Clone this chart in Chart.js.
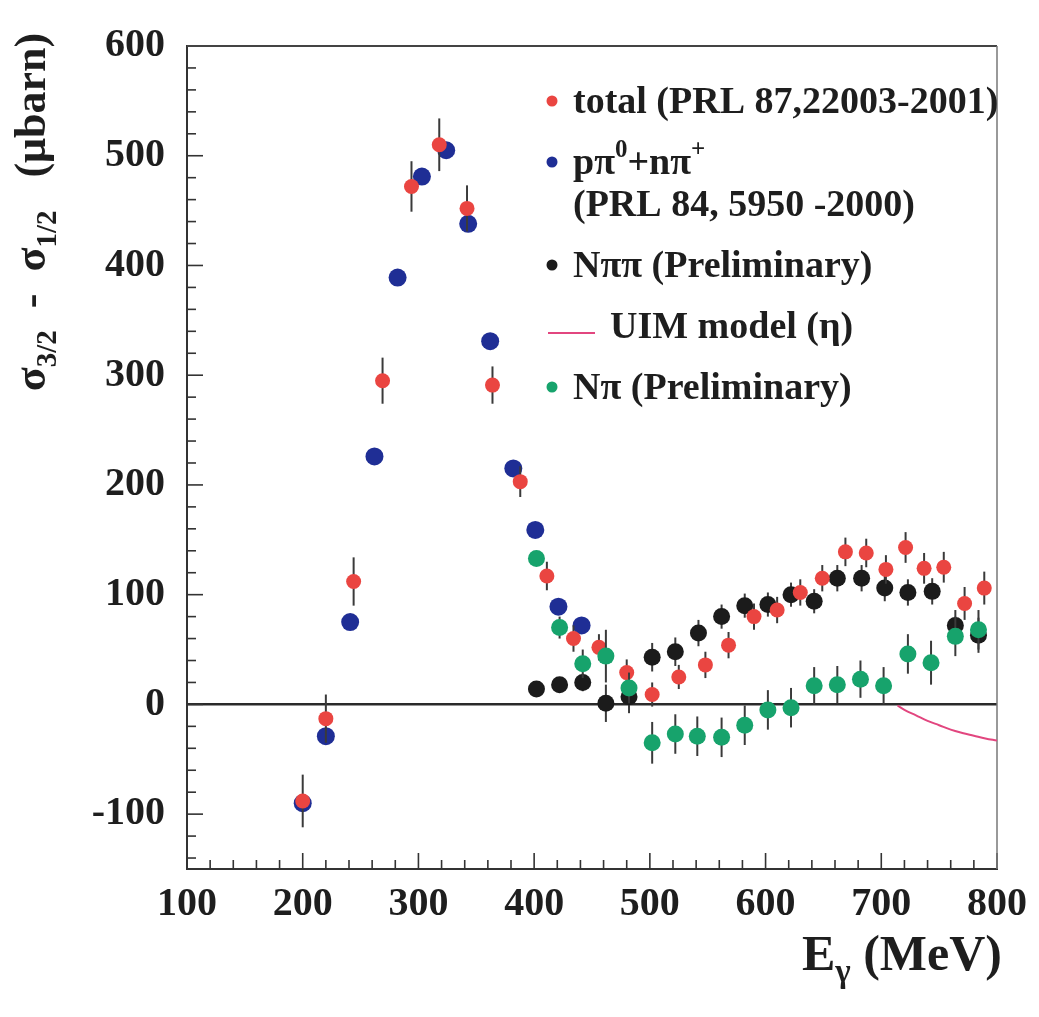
<!DOCTYPE html>
<html>
<head>
<meta charset="utf-8">
<script src="https://cdn.jsdelivr.net/npm/chart.js@4.4.1/dist/chart.umd.min.js"></script>
<style>
html,body{margin:0;padding:0;background:#ffffff;}
#wrap{width:1039px;height:1017px;position:relative;}
</style>
</head>
<body>
<div id="wrap"><canvas id="c" width="1039" height="1017"></canvas></div>
<script>
// ---------- data ----------
const totalE   = [200, 220, 244, 269, 294, 318, 342, 364, 388, 411, 434, 456, 480, 502, 525, 548, 568, 590, 610, 630, 649, 669, 687, 704, 721, 737, 754, 772, 789];
const totalV   = [-88, -13, 112, 295, 472, 510, 452, 291, 203, 117, 60, 52, 29, 9, 25, 36, 54, 80, 86, 102, 115, 139, 138, 123, 143, 124, 125, 92, 106];
const totalErr = [24, 22, 22, 21, 23, 24, 21, 17, 14, 13, 12, 12, 12, 11, 11, 12, 12, 12, 12, 12, 12, 13, 13, 13, 14, 14, 14, 15, 15];

const singleE  = [200, 220, 241, 262, 282, 303, 324, 343, 362, 382, 401, 421, 441];
const singleV  = [-90, -29, 75, 226, 389, 481, 505, 438, 331, 215, 159, 89, 72];

const npipiE   = [402, 422, 442, 462, 482, 502, 522, 542, 562, 582, 602, 622, 642, 662, 683, 703, 723, 744, 764, 784];
const npipiV   = [14, 18, 20, 1, 7, 43, 48, 65, 80, 90, 91, 100, 94, 115, 115, 106, 102, 103, 72, 63];
const npipiErr = [6, 6, 8, 17, 15, 13, 13, 12, 11, 11, 11, 11, 11, 12, 12, 12, 12, 12, 14, 16];

const npiE     = [402, 422, 442, 462, 482, 502, 522, 541, 562, 582, 602, 622, 642, 662, 682, 702, 723, 743, 764, 784];
const npiV     = [133, 70, 37, 44, 15, -35, -27, -29, -30, -19, -5, -3, 17, 18, 23, 17, 46, 38, 62, 68];
const npiErr   = [6, 10, 13, 24, 14, 19, 18, 18, 18, 18, 18, 18, 17, 17, 17, 17, 18, 20, 18, 18];

const uimE     = [714, 720, 730, 740, 750, 760, 770, 780, 790, 800];
const uimV     = [-1, -5, -10, -15, -19, -23, -26, -28.5, -31, -33];

const xTicks = [100, 200, 300, 400, 500, 600, 700, 800];
const yTicks = [-100, 0, 100, 200, 300, 400, 500, 600];
const minorStep = 20;

const legendTexts = [
  [[['total (PRL 87,22003-2001)', '']]],
  [[['p\u03c0', ''], ['0', 'sup'], ['+n\u03c0', ''], ['+', 'sup']], [['(PRL 84, 5950 -2000)', '']]],
  [[['N\u03c0\u03c0 (Preliminary)', '']]],
  [[['UIM model (\u03b7)', '']]],
  [[['N\u03c0 (Preliminary)', '']]]
];
const xTitleParts = [['E', ''], ['\u03b3', 'sub'], [' (MeV)', '']];
const yTitleParts = [['\u03c3', ''], ['3/2', 'sub'], ['  -  \u03c3', ''], ['1/2', 'sub'], ['   (\u03bcbarn)', '']];

// ---------- styles ----------
const RED = '#ea4541', BLUE = '#1f2e95', BLACK = '#1b1b1b', GREEN = '#17a36c', PINK = '#e2467f';
const TXT = '#1e1e1e';
const FONT = '"Liberation Serif", "Times New Roman", serif';

const pts = (xs, ys) => xs.map((x, i) => ({x: x, y: ys[i]}));

function fontFor(mode, size) {
  const s = mode ? Math.round(size * 0.65) : size;
  return 'bold ' + s + 'px ' + FONT;
}
function drawRich(ctx, parts, x, y, size, align) {
  const widths = parts.map(([t, m]) => { ctx.font = fontFor(m, size); return ctx.measureText(t).width; });
  const total = widths.reduce((a, b) => a + b, 0);
  let cx = align === 'right' ? x - total : (align === 'center' ? x - total / 2 : x);
  ctx.textAlign = 'left';
  ctx.textBaseline = 'alphabetic';
  parts.forEach(([t, m], i) => {
    ctx.font = fontFor(m, size);
    const dy = m === 'sub' ? size * 0.24 : (m === 'sup' ? -size * 0.45 : 0);
    ctx.fillText(t, cx, y + dy);
    cx += widths[i];
  });
}

const errorBars = {
  id: 'errorBars',
  beforeDatasetDraw(chart, args) {
    const ds = chart.data.datasets[args.index];
    if (!ds.errors) return;
    const xs = chart.scales.x, ys = chart.scales.y, ctx = chart.ctx;
    ctx.save();
    ctx.strokeStyle = '#3a3a3a';
    ctx.lineWidth = 2;
    ds.data.forEach((p, i) => {
      const e = ds.errors[i];
      const px = xs.getPixelForValue(p.x);
      ctx.beginPath();
      ctx.moveTo(px, ys.getPixelForValue(p.y - e));
      ctx.lineTo(px, ys.getPixelForValue(p.y + e));
      ctx.stroke();
    });
    ctx.restore();
  }
};

const frameAndTicks = {
  id: 'frameAndTicks',
  beforeDatasetsDraw(chart) {
    const {ctx, chartArea: a, scales: {x, y}} = chart;
    ctx.save();
    ctx.strokeStyle = '#333';
    ctx.lineWidth = 1.6;
    for (let v = y.min + 10; v <= y.max; v += minorStep) {
      const py = y.getPixelForValue(v);
      const len = (v % 100 === 0) ? 16 : 9;
      ctx.beginPath(); ctx.moveTo(a.left, py); ctx.lineTo(a.left + len, py); ctx.stroke();
    }
    for (let v = x.min; v <= x.max; v += minorStep) {
      const px = x.getPixelForValue(v);
      const len = (v % 100 === 0) ? 16 : 9;
      ctx.beginPath(); ctx.moveTo(px, a.bottom); ctx.lineTo(px, a.bottom - len); ctx.stroke();
    }
    // top and right frame
    ctx.strokeStyle = '#444'; ctx.lineWidth = 2;
    ctx.beginPath(); ctx.moveTo(a.left, a.top); ctx.lineTo(a.right, a.top); ctx.stroke();
    ctx.strokeStyle = '#777'; ctx.lineWidth = 1.5;
    ctx.beginPath(); ctx.moveTo(a.right, a.top); ctx.lineTo(a.right, a.bottom); ctx.stroke();
    ctx.restore();
  }
};

const titlesAndLegend = {
  id: 'titlesAndLegend',
  afterDraw(chart) {
    const ctx = chart.ctx;
    const dsets = chart.data.datasets;
    ctx.save();
    ctx.fillStyle = TXT;
    // x title
    drawRich(ctx, xTitleParts, 1002, 970, 50, 'right');
    // y title (rotated)
    ctx.save();
    ctx.translate(45, 212);
    ctx.rotate(-Math.PI / 2);
    drawRich(ctx, yTitleParts, 0, 0, 44, 'center');
    ctx.restore();
    // legend
    const dotX = 552, textX = 573, size = 38;
    let base = 113;
    legendTexts.forEach((lines, k) => {
      const ds = dsets[k];
      if (ds.type === 'line') {
        ctx.strokeStyle = ds.borderColor; ctx.lineWidth = 2;
        ctx.beginPath(); ctx.moveTo(dotX - 4, base - 5); ctx.lineTo(dotX + 43, base - 5); ctx.stroke();
        ctx.fillStyle = TXT;
        drawRich(ctx, lines[0], textX + 37, base, size, 'left');
      } else {
        ctx.fillStyle = ds.backgroundColor;
        ctx.beginPath(); ctx.arc(dotX, base - 12, 5.5, 0, Math.PI * 2); ctx.fill();
        ctx.fillStyle = TXT;
        lines.forEach((ln, j) => drawRich(ctx, ln, textX, base + j * 42, size, 'left'));
      }
      base += 61 + (lines.length - 1) * 42;
    });
    ctx.restore();
  }
};

const whiteBg = {
  id: 'whiteBg',
  beforeDraw(chart) {
    const ctx = chart.ctx;
    ctx.save(); ctx.fillStyle = '#ffffff'; ctx.fillRect(0, 0, chart.width, chart.height); ctx.restore();
  }
};

const tickFont = {family: FONT, size: 40, weight: 'bold'};

new Chart(document.getElementById('c'), {
  type: 'scatter',
  data: {
    datasets: [
      {label: 'total (PRL 87,22003-2001)', data: pts(totalE, totalV), errors: totalErr,
       backgroundColor: RED, borderWidth: 0, pointRadius: 7.5, order: 1},
      {label: 'p\u03c0\u2070+n\u03c0\u207a (PRL 84, 5950 -2000)', data: pts(singleE, singleV),
       backgroundColor: BLUE, borderWidth: 0, pointRadius: 9, order: 3},
      {label: 'N\u03c0\u03c0 (Preliminary)', data: pts(npipiE, npipiV), errors: npipiErr,
       backgroundColor: BLACK, borderWidth: 0, pointRadius: 8.5, order: 2},
      {label: 'UIM model (\u03b7)', type: 'line', data: pts(uimE, uimV), borderColor: PINK, backgroundColor: PINK,
       borderWidth: 2, pointRadius: 0, showLine: true, fill: false, tension: 0.4, order: 4},
      {label: 'N\u03c0 (Preliminary)', data: pts(npiE, npiV), errors: npiErr,
       backgroundColor: GREEN, borderWidth: 0, pointRadius: 8.5, order: 0}
    ]
  },
  options: {
    responsive: false,
    animation: false,
    devicePixelRatio: 1,
    layout: {padding: {top: 25, right: 35, left: 0, bottom: 0}},
    plugins: {legend: {display: false}, tooltip: {enabled: false}},
    scales: {
      x: {
        type: 'linear', min: 100, max: 800,
        afterFit: s => { s.height = 148; },
        afterBuildTicks: s => { s.ticks = xTicks.map(v => ({value: v})); },
        ticks: {font: tickFont, color: TXT, padding: 12, maxRotation: 0, autoSkip: false},
        grid: {drawOnChartArea: false, drawTicks: false},
        border: {display: true, color: '#333', width: 2}
      },
      y: {
        type: 'linear', min: -150, max: 600,
        afterFit: s => { s.width = 187; },
        afterBuildTicks: s => { s.ticks = yTicks.map(v => ({value: v})); },
        ticks: {font: tickFont, color: TXT, padding: 22, autoSkip: false},
        grid: {
          drawTicks: false,
          color: c => (c.tick && c.tick.value === 0) ? '#2a2a2a' : 'rgba(0,0,0,0)',
          lineWidth: c => (c.tick && c.tick.value === 0) ? 2.5 : 0
        },
        border: {display: true, color: '#333', width: 2}
      }
    }
  },
  plugins: [whiteBg, frameAndTicks, errorBars, titlesAndLegend]
});
</script>
</body>
</html>
